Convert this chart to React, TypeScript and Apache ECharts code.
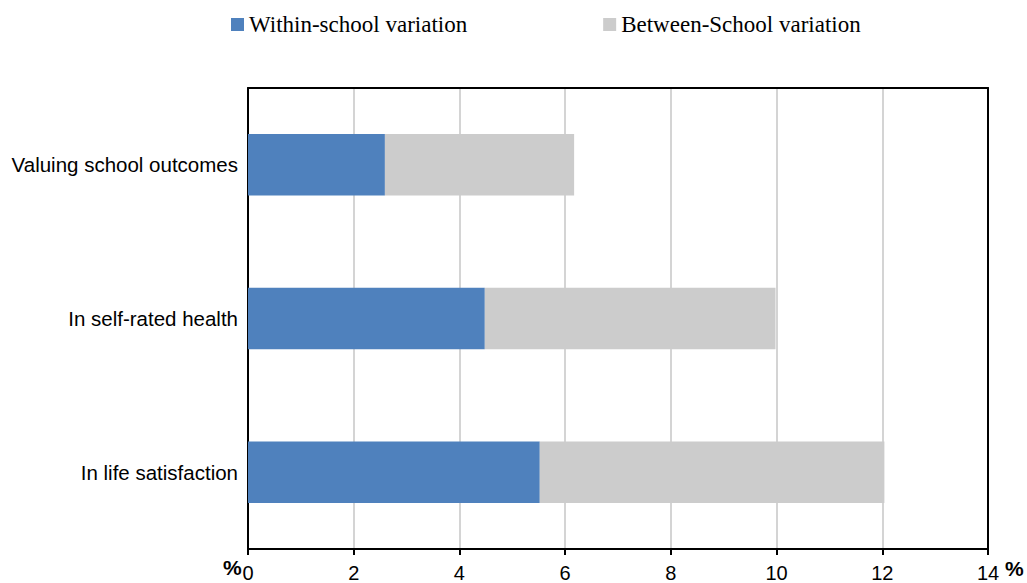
import React, { useEffect, useRef } from "react";
import * as echarts from "echarts";

const categories = ["In life satisfaction", "In self-rated health", "Valuing school outcomes"];
const withinSchool = [5.52, 4.48, 2.59];
const betweenSchool = [6.52, 5.50, 3.58];
const seriesNames = ["Within-school variation", "Between-School variation"];
const xTicks = { min: 0, max: 14, interval: 2 };

export default function App() {
  const ref = useRef<HTMLDivElement>(null);
  useEffect(() => {
    if (!ref.current) return;
    const chart = echarts.init(ref.current, undefined, { renderer: "svg" });
    chart.setOption({
      animation: false,
      backgroundColor: "#ffffff",
      legend: {
        left: 226,
        top: 8,
        itemWidth: 13,
        itemHeight: 13,
        itemGap: 136,
        icon: "rect",
        textStyle: { fontFamily: "Liberation Serif", fontSize: 23, color: "#000" },
        data: seriesNames,
      },
      grid: {
        left: 248,
        right: 39,
        top: 88,
        bottom: 30,
        show: false,
        containLabel: false,
      },
      xAxis: [
        {
          type: "value",
          min: xTicks.min,
          max: xTicks.max,
          interval: xTicks.interval,
          axisLine: { show: true, onZero: false, lineStyle: { color: "#000", width: 2 } },
          axisTick: { show: true, length: 6, lineStyle: { color: "#000", width: 2 } },
          axisLabel: { fontFamily: "Liberation Sans", fontSize: 20, color: "#000", margin: 14 },
          splitLine: { show: true, lineStyle: { color: "#d4d4d4", width: 2 } },
        },
        {
          type: "value",
          position: "top",
          min: xTicks.min,
          max: xTicks.max,
          interval: xTicks.interval,
          axisLine: { show: true, onZero: false, lineStyle: { color: "#000", width: 2 } },
          axisTick: { show: false },
          axisLabel: { show: false },
          splitLine: { show: false },
        },
      ],
      yAxis: [
        {
          type: "category",
          data: categories,
          axisLine: { show: true, onZero: false, lineStyle: { color: "#000", width: 2 } },
          axisTick: { show: false },
          axisLabel: { fontFamily: "Liberation Sans", fontSize: 20.5, color: "#000", margin: 10 },
        },
        {
          type: "category",
          position: "right",
          data: categories,
          axisLine: { show: true, onZero: false, lineStyle: { color: "#000", width: 2 } },
          axisTick: { show: false },
          axisLabel: { show: false },
        },
      ],
      graphic: [
        { type: "text", left: 223, top: 557, style: { text: "%", fontFamily: "Liberation Sans", fontSize: 21, fontWeight: "bold", fill: "#000" } },
        { type: "text", left: 1005, top: 558, style: { text: "%", fontFamily: "Liberation Sans", fontSize: 21, fontWeight: "bold", fill: "#000" } },
      ],
      series: [
        {
          name: seriesNames[0],
          type: "bar",
          stack: "total",
          data: withinSchool,
          barCategoryGap: "60%",
          itemStyle: { color: "#4F81BD" },
        },
        {
          name: seriesNames[1],
          type: "bar",
          stack: "total",
          data: betweenSchool,
          barCategoryGap: "60%",
          itemStyle: { color: "#CCCCCC" },
        },
      ],
    });
    return () => chart.dispose();
  }, []);
  return <div ref={ref} style={{ position: "fixed", left: 0, top: 0, width: 1027, height: 583 }} />;
}
